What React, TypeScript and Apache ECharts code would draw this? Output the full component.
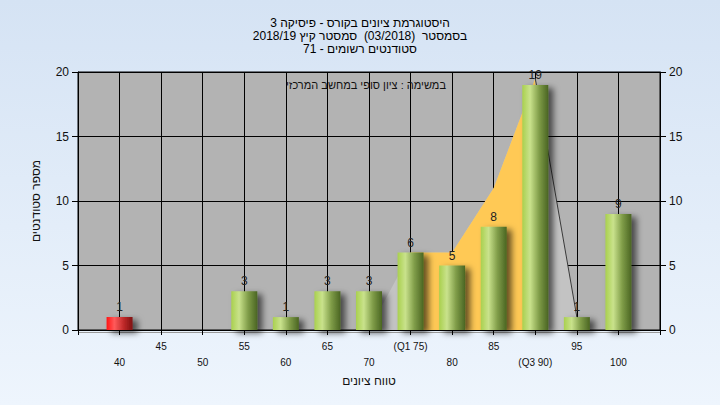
import React, { useEffect, useRef } from "react";
import * as echarts from "echarts";

const titleLines = [
  "היסטוגרמת ציונים בקורס - פיסיקה 3",
  "בסמסטר  (03/2018)  סמסטר קיץ 2018/19",
  "סטודנטים רשומים - 71",
];
const subtitle = "במשימה : ציון סופי במחשב המרכזי";
const xAxisName = "טווח ציונים";
const yAxisName = "מספר סטודנטים";

const xMin = 35;
const xMax = 105;
const xStep = 5;
const yMax = 20;
const yStep = 5;

const barScores = [40, 55, 60, 65, 70, 75, 80, 85, 90, 95, 100];
const barCounts = [1, 3, 1, 3, 3, 6, 5, 8, 19, 1, 9];
const failScores = [40];

const curveScores = [70, 75, 80, 85, 90, 95];
const curveValues = [0, 6, 6, 11, 19.5, 1];
const q1 = 75;
const q3 = 90;
const specialLabels: Record<number, string> = { 75: "(Q1 75)", 90: "(Q3 90)" };

const RLE = "\u202B";
const PDF = "\u202C";
const rtl = (s: string) => RLE + s + PDF;

const FONT = 'Arial, "Liberation Sans", sans-serif';

export default function App() {
  const ref = useRef<HTMLDivElement>(null);
  useEffect(() => {
    if (!ref.current) return;
    const chart = echarts.init(ref.current, null, { renderer: "svg" });

    const green = new echarts.graphic.LinearGradient(0, 0, 1, 0, [
      { offset: 0, color: "#a9d04e" },
      { offset: 0.3, color: "#c9e28c" },
      { offset: 0.65, color: "#7f9c48" },
      { offset: 1, color: "#4a6522" },
    ]);
    const red = new echarts.graphic.LinearGradient(0, 0, 1, 0, [
      { offset: 0, color: "#ff1414" },
      { offset: 0.3, color: "#ff5a5a" },
      { offset: 0.65, color: "#c02a2a" },
      { offset: 1, color: "#7e1010" },
    ]);

    const barData = barScores.map((s, i) => ({
      value: [s, barCounts[i]],
      itemStyle: { color: failScores.includes(s) ? red : green },
    }));
    const curveAll = curveScores.map((s, i) => [s, curveValues[i]]);
    const curveIqr = curveAll.filter((p) => p[0] >= q1 && p[0] <= q3);
    const curveTail = curveAll.filter((p) => p[0] >= q3);

    const axisLabelStyle = { color: "#111", fontFamily: FONT };

    chart.setOption({
      animation: false,
      backgroundColor: new echarts.graphic.LinearGradient(0, 0, 0, 1, [
        { offset: 0, color: "#d5e3f4" },
        { offset: 1, color: "#eef5fd" },
      ]),
      title: {
        text: titleLines.map(rtl).join("\n"),
        left: "center",
        top: 11,
        textStyle: {
          fontSize: 12,
          fontWeight: "normal",
          color: "#000",
          fontFamily: FONT,
          lineHeight: 13,
        },
      },
      graphic: [
        {
          type: "text",
          right: 720 - 446,
          top: 79,
          style: {
            text: rtl(subtitle),
            fontSize: 11,
            fill: "#111",
            fontFamily: FONT,
          },
          z: 10,
        },
        {
          type: "line",
          shape: { x1: 78, y1: 332.5, x2: 660, y2: 332.5 },
          style: { stroke: "#9a9a9a", lineWidth: 1 },
          z: 0,
        },
      ],
      grid: {
        left: 78,
        right: 60,
        top: 72,
        bottom: 75,
        show: true,
        backgroundColor: "#b3b3b3",
        borderColor: "#000",
        borderWidth: 1,
      },
      xAxis: {
        type: "value",
        min: xMin,
        max: xMax,
        interval: xStep,
        name: xAxisName,
        nameLocation: "middle",
        nameGap: 45,
        nameTextStyle: { fontSize: 12, color: "#111", fontFamily: FONT },
        axisLine: { lineStyle: { color: "#000", width: 1 } },
        axisTick: { show: true, length: 5, lineStyle: { color: "#000" } },
        splitLine: { show: true, lineStyle: { color: "#000", width: 1 } },
        axisLabel: {
          ...axisLabelStyle,
          fontSize: 10,
          lineHeight: 16,
          margin: 8,
          showMinLabel: true,
          showMaxLabel: true,
          formatter: (v: number) => {
            if (v <= xMin || v >= xMax) return "";
            const t = specialLabels[v] ?? String(v);
            return (v - 40) % 10 === 0 ? "\n" + t : t;
          },
        },
      },
      yAxis: [
        {
          type: "value",
          min: 0,
          max: yMax,
          interval: yStep,
          position: "left",
          name: yAxisName,
          nameLocation: "middle",
          nameGap: 36,
          nameTextStyle: { fontSize: 12, color: "#111", fontFamily: FONT },
          axisLine: { show: true, lineStyle: { color: "#000" } },
          axisTick: { show: true, length: 6, lineStyle: { color: "#000" } },
          splitLine: { show: true, lineStyle: { color: "#000", width: 1 } },
          axisLabel: { ...axisLabelStyle, fontSize: 12, margin: 9 },
        },
        {
          type: "value",
          min: 0,
          max: yMax,
          interval: yStep,
          position: "right",
          axisLine: { show: true, lineStyle: { color: "#000" } },
          axisTick: { show: true, length: 6, lineStyle: { color: "#000" } },
          splitLine: { show: false },
          axisLabel: { ...axisLabelStyle, fontSize: 12, margin: 9 },
        },
      ],
      series: [
        {
          type: "line",
          data: curveAll,
          symbol: "none",
          lineStyle: { width: 0, opacity: 0 },
          areaStyle: { color: "#c3c3c3", opacity: 1 },
          z: 1,
          silent: true,
        },
        {
          type: "line",
          data: curveIqr,
          symbol: "none",
          lineStyle: { width: 0, opacity: 0 },
          areaStyle: { color: "#ffc955", opacity: 1 },
          z: 2,
          silent: true,
        },
        {
          type: "line",
          data: curveTail,
          symbol: "none",
          lineStyle: { width: 1, color: "#3a3a3a" },
          z: 2,
          silent: true,
        },
        {
          type: "bar",
          data: barData,
          barWidth: 26,
          z: 3,
          itemStyle: {
            shadowColor: "rgba(0,0,0,0.6)",
            shadowBlur: 6,
            shadowOffsetX: 5,
            shadowOffsetY: 3,
          },
          label: {
            show: true,
            position: "top",
            distance: 4,
            fontSize: 12,
            color: "#222",
            fontFamily: FONT,
          },
        },
      ],
    });
    return () => chart.dispose();
  }, []);
  return (
    <div
      ref={ref}
      style={{ position: "fixed", left: 0, top: 0, width: 720, height: 405 }}
    />
  );
}
